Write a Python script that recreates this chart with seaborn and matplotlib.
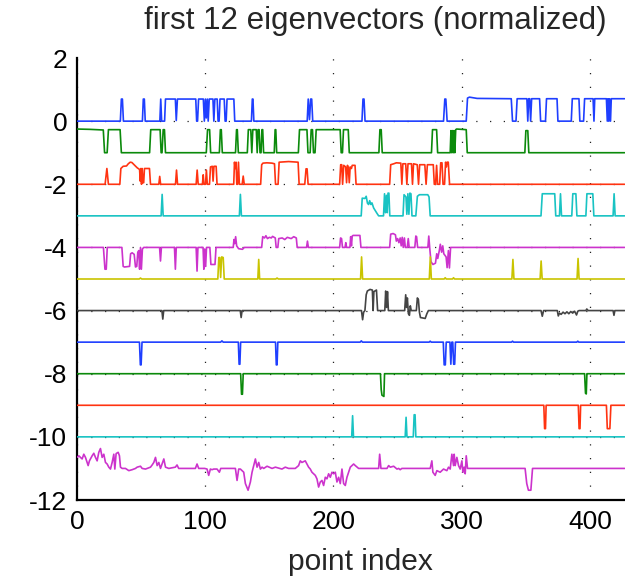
import matplotlib
matplotlib.use('Agg')
import matplotlib.pyplot as plt
import seaborn as sns
import pandas as pd

# ---------------- data (x = point index, y = normalized eigenvector + offset) -------------
ev1 = [(0, 0), (33.8, 0), (34.6, 0.7), (35.4, 0.7), (36.2, 0),
       (51.0, 0), (51.7, 0.7), (52.5, 0.7), (53.2, 0),
       (64.6, 0), (65.3, 0.7), (66.0, 0), (68.3, 0), (69.0, 0.7), (76.7, 0.7), (77.4, 0.02),
       (78.3, 0.7), (92.6, 0.7), (93.3, 0), (94.0, 0), (94.8, 0.7), (98.5, 0.7), (99.3, 0),
       (100.1, 0.7), (100.8, 0.1), (101.6, 0.7), (102.3, 0), (103.1, 0.7), (106.0, 0.7),
       (106.7, 0), (107.5, 0.7), (109.3, 0.7), (110.0, 0), (110.8, 0), (111.5, 0.7),
       (114.8, 0.7), (115.5, 0), (116.3, 0), (117.0, 0.7), (122.3, 0.7), (123.0, 0),
       (136.0, 0), (136.7, 0.7), (137.2, 0.7), (137.9, 0),
       (179.5, 0), (180.3, 0.7), (181.3, 0.05), (182.2, 0.7), (183.0, 0.7), (183.8, 0),
       (222.2, 0), (223.0, 0.7), (223.8, 0.7), (224.6, 0),
       (285.8, 0), (286.8, 0.7), (287.6, 0.7), (288.6, 0),
       (303.5, 0), (304.5, 0.73), (306, 0.76), (312, 0.72), (338.6, 0.71), (339.6, 0),
       (342.3, 0), (343.2, 0.71), (350.8, 0.71), (351.5, 0), (352.2, 0.71), (353.0, 0.71),
       (353.7, 0), (354.5, 0.71), (360.7, 0.71), (361.5, 0), (365.3, 0), (366.1, 0.71),
       (374.3, 0.71), (375.0, 0), (385.4, 0), (386.2, 0.71), (391.4, 0.71), (392.1, 0),
       (395.0, 0), (395.8, 0.71), (402.4, 0.71), (403.1, 0), (403.7, 0.71), (412.8, 0.71),
       (413.5, 0), (414.1, 0.71), (414.7, 0), (415.3, 0.71), (416.0, 0), (416.6, 0.71),
       (427, 0.71)]

ev2 = [(0, -0.25), (10, -0.26), (20.5, -0.28), (21.5, -1.0), (23.5, -1.0), (24.5, -0.27),
       (33.6, -0.27), (34.6, -1.0), (56.6, -1.0), (57.5, -0.27), (64.8, -0.27), (65.6, -1.0),
       (66.3, -1.0), (67.2, -0.27), (68.2, -0.27), (69.0, -1.0), (100.8, -1.0), (101.8, -0.27),
       (103.4, -0.27), (104.2, -1.0), (111.0, -1.0), (111.8, -0.27), (112.5, -0.27),
       (113.3, -1.0), (123.6, -1.0), (124.4, -0.27), (125.0, -0.27), (125.8, -1.0),
       (132.8, -1.0), (133.6, -0.27), (135.5, -0.27), (136.3, -1.0), (137.1, -0.27),
       (139.8, -0.27), (140.5, -1.0), (141.2, -0.27), (142.0, -0.27), (142.7, -1.0),
       (143.5, -1.0), (144.2, -0.27), (144.8, -0.27), (145.5, -1.0), (153.8, -1.0),
       (154.5, -0.27), (155.0, -0.27), (155.7, -1.0), (172.6, -1.0), (173.5, -0.27),
       (179.3, -0.27), (180.1, -1.0), (181.8, -1.0), (182.6, -0.27), (183.6, -0.27),
       (184.4, -1.0), (185.6, -1.0), (186.5, -0.27), (205.2, -0.27), (206.0, -1.0),
       (207.0, -1.0), (207.8, -0.27), (211.5, -0.27), (212.3, -1.0), (235.4, -1.0),
       (236.2, -0.27), (237.2, -0.27), (238.0, -1.0), (276.4, -1.0), (277.2, -0.27),
       (280.4, -0.27), (281.2, -1.0), (291.0, -1.0), (291.6, -0.3), (292.2, -1.0),
       (292.8, -0.3), (293.4, -1.0), (294.0, -0.3), (294.6, -1.0), (295.3, -0.27),
       (296.0, -0.25), (303.5, -0.27), (304.3, -1.0), (349.2, -1.0), (350.0, -0.3),
       (351.5, -0.3), (352.3, -1.0), (427, -1.0)]

ev3 = [(0, -2), (21.9, -2), (23.3, -1.5), (24.5, -2), (33.4, -2), (34.2, -1.5), (36, -1.43),
       (38.6, -1.42), (40, -1.35), (41.5, -1.3), (42.8, -1.31), (45, -1.4), (47, -1.48),
       (48.8, -1.53), (49.3, -1.9), (49.8, -1.5), (50.3, -2.0), (50.8, -1.5), (51.4, -1.95),
       (52.0, -1.95), (52.6, -1.5), (56.5, -1.5), (57.3, -2.0), (63.8, -2), (64.5, -1.75),
       (65.2, -2), (76.8, -2), (77.6, -1.55), (78.4, -2), (92.9, -2), (93.7, -1.55),
       (94.5, -2), (97.8, -2), (98.4, -1.7), (99.0, -2), (100.2, -2), (100.9, -1.55),
       (101.6, -2), (103.3, -2), (104.1, -1.45), (105.5, -1.43), (106.1, -1.9),
       (106.8, -1.43), (108.5, -1.43), (109.2, -2), (122.2, -2), (122.8, -1.3),
       (123.4, -1.5), (124.0, -1.3), (124.6, -2), (125.2, -2), (125.9, -1.3), (126.6, -2),
       (128.8, -2), (129.6, -1.74), (130.4, -2), (143.2, -2), (144.0, -1.38), (145, -1.33),
       (148, -1.32), (152, -1.33), (154.0, -1.35), (154.8, -2), (156.8, -2), (157.6, -1.3),
       (165, -1.28), (172.4, -1.3), (173.2, -2), (177.6, -2), (178.6, -1.51), (179.4, -1.51),
       (180.2, -2), (204.8, -2), (205.6, -1.38), (206.4, -1.38), (207.1, -2), (208.0, -1.4),
       (209.5, -1.45), (210.2, -1.95), (210.9, -1.4), (211.6, -1.5), (212.3, -1.95),
       (213.0, -1.45), (214.0, -1.5), (214.6, -1.4), (216.8, -1.4), (217.6, -2.0),
       (243.8, -2), (244.6, -1.38), (247, -1.35), (249, -1.32), (252.5, -1.33), (253.3, -2),
       (254.1, -1.35), (256.3, -1.35), (257.2, -2), (258.1, -1.35), (260.8, -1.35),
       (261.6, -2), (262.4, -1.35), (265.3, -1.38), (266.3, -2), (267.2, -1.38),
       (271.2, -1.38), (272.2, -2), (273.2, -1.38), (277.8, -1.38), (278.6, -2), (279.6, -2),
       (280.4, -1.4), (281.2, -2), (282.8, -2), (283.6, -1.32), (284.6, -1.32), (285.4, -2),
       (286.6, -2), (287.4, -1.3), (288.0, -1.45), (288.6, -1.3), (289.5, -1.3), (290.5, -2),
       (427, -2)]

ev4 = [(0, -3), (65.6, -3), (66.4, -2.32), (67.2, -3), (126.6, -3), (127.4, -2.32),
       (128.2, -3), (221.6, -3), (222.4, -2.44), (224.5, -2.45), (225.5, -2.38),
       (226.5, -2.6), (227.4, -2.64), (228.2, -2.52), (229.2, -2.64), (230, -2.59),
       (231.3, -2.75), (233.9, -2.92), (235.2, -3), (239.0, -3), (239.8, -2.3),
       (240.5, -2.9), (241.3, -2.35), (241.9, -2.9), (242.5, -2.28), (243.2, -2.28),
       (243.9, -3), (254.2, -3), (255.0, -2.33), (256.5, -2.4), (257.2, -2.95),
       (258.0, -2.3), (258.8, -2.95), (259.6, -2.28), (260.4, -2.3), (261.2, -3),
       (264.2, -3), (265.4, -2.38), (267, -2.33), (273.5, -2.33), (274.5, -2.4),
       (275.4, -3), (361.8, -3), (362.8, -2.3), (372.5, -2.3), (373.3, -3), (376.2, -3),
       (377.0, -2.3), (377.8, -3), (385.8, -3), (386.6, -2.3), (389.0, -2.3), (389.8, -3),
       (396.8, -3), (397.6, -2.3), (402.2, -2.3), (403.0, -3), (418.0, -3), (418.8, -2.3),
       (419.6, -3), (427, -3)]

ev5 = [(0, -4), (20.6, -4), (21.8, -4.69), (22.8, -4.69), (23.6, -4), (35.0, -4),
       (36.0, -4.6), (37.0, -4.62), (41.0, -4.6), (41.8, -4.2), (43.0, -4.17), (44.6, -4.22),
       (45.6, -4.62), (46.6, -4.6), (47.4, -4.15), (48.2, -4.1), (48.8, -4.69), (49.5, -4.0),
       (50.2, -4.69), (51.0, -4.05), (52.0, -4.0), (64.4, -4), (65.1, -4.43), (65.8, -4),
       (76.0, -4), (76.7, -4.69), (77.4, -4), (92.9, -4), (93.6, -4.75), (94.3, -4),
       (98.3, -4), (98.9, -4.69), (99.6, -4.05), (100.3, -4.6), (101.0, -4.0), (103.6, -4),
       (104.4, -4.54), (107.6, -4.54), (108.4, -4), (121.8, -4), (122.4, -3.75),
       (123.0, -3.88), (123.7, -3.66), (124.5, -3.95), (126.0, -4.04), (129.0, -4.06),
       (130.5, -4.0), (144.0, -4), (144.8, -3.66), (146.2, -3.7), (147.3, -3.63),
       (148.5, -3.72), (150, -3.68), (151.5, -3.7), (152.5, -3.65), (154.6, -3.7),
       (155.3, -4.0), (156.6, -4.0), (157.3, -3.72), (160, -3.7), (162, -3.75), (164, -3.68),
       (167, -3.72), (169, -3.66), (171.0, -3.7), (171.7, -4.0), (179.0, -4), (179.7, -3.8),
       (180.4, -4), (204.8, -4), (205.5, -3.7), (206.3, -3.72), (207, -4), (209.0, -4),
       (209.6, -3.85), (210.2, -4), (212.8, -4), (213.4, -3.66), (214.0, -3.95),
       (214.6, -3.64), (215.3, -3.62), (220.6, -3.62), (221.4, -4), (243.8, -4),
       (244.6, -3.58), (246.5, -3.56), (248.3, -3.6), (249.0, -3.8), (250.0, -3.72),
       (251.0, -3.85), (252.0, -3.7), (252.8, -3.95), (253.6, -3.68), (254.4, -4.0),
       (255.3, -3.7), (256.0, -4.0), (257.5, -4.0), (258.3, -3.72), (259.0, -4.0),
       (263.4, -4.0), (264.2, -3.64), (264.8, -3.66), (265.6, -4.0), (273.6, -4.0),
       (274.3, -3.64), (275.0, -4.0), (276.0, -4.45), (277.5, -4.54), (279.5, -4.5),
       (280.5, -4.2), (281.3, -4.35), (282.5, -4.1), (283.3, -3.9), (284.3, -4.15),
       (285.2, -3.95), (286.0, -4.2), (287.8, -4.3), (288.6, -4.64), (289.6, -4.1),
       (290.4, -4.65), (291.3, -4.0), (427, -4.0)]

ev6 = [(0, -5), (48.5, -5), (49.5, -4.97), (50.5, -5), (109.8, -5), (110.6, -4.32),
       (111.3, -4.32), (112.0, -4.95), (112.8, -4.3), (114.0, -4.32), (114.8, -5),
       (141.0, -5), (141.7, -4.38), (142.4, -5), (155, -5), (156, -4.97), (157, -5),
       (221.1, -5), (221.9, -4.3), (222.7, -5), (274.7, -5), (275.5, -4.3), (276.3, -5),
       (286.3, -5), (287.1, -4.96), (287.9, -5), (292.8, -5), (293.6, -4.96), (294.4, -5),
       (339.1, -5), (339.9, -4.38), (340.7, -5), (361.1, -5), (361.9, -4.43), (362.7, -5),
       (389.9, -5), (390.7, -4.35), (391.5, -5), (427, -5)]

ev7 = [(0, -6), (66.2, -6), (66.9, -6.27), (67.6, -6), (127.3, -6), (128.0, -6.22),
       (128.7, -6), (221.8, -6), (222.7, -6.29), (223.5, -6.05), (224.5, -6.0),
       (225.5, -5.5), (226.4, -5.38), (228.5, -5.33), (230.3, -5.35), (230.9, -6.0),
       (231.5, -5.4), (233.5, -5.35), (234.4, -6.0), (240.0, -6.0), (240.7, -5.38),
       (241.4, -5.9), (242.1, -5.4), (242.8, -6.0), (255.5, -6), (256.3, -5.5),
       (257.0, -5.9), (257.6, -5.6), (258.4, -6.1), (259.2, -6.15), (259.9, -5.85),
       (260.6, -6.0), (264.6, -6.0), (265.4, -5.6), (266.2, -5.65), (267.0, -6.05),
       (267.8, -6.22), (271.5, -6.25), (272.8, -6.1), (274.0, -6.0), (361.8, -6),
       (362.8, -6.18), (363.8, -6), (374.5, -6), (375.3, -6.17), (376.2, -6.08),
       (377.5, -6.12), (379, -6.05), (380.5, -6.1), (382, -6.04), (383.5, -6.1),
       (385, -6.03), (386.5, -6.08), (388, -6.02), (389.5, -6.14), (390.5, -6.02),
       (391.5, -6.0), (396.8, -6), (397.5, -5.95), (398.6, -6), (418.0, -6),
       (418.7, -6.15), (419.4, -6), (427, -6)]

ev8 = [(0, -7), (48.7, -7), (49.4, -7.72), (50.0, -7.72), (50.7, -7), (112, -7),
       (113, -6.96), (114, -7), (125.8, -7), (126.4, -7.7), (127.0, -7.7), (127.6, -7),
       (154.8, -7), (155.4, -7.72), (156.0, -7.72), (156.6, -7), (220.8, -7),
       (221.7, -6.96), (222.6, -7), (274.6, -7), (275.4, -6.97), (276.2, -7), (285.6, -7),
       (286.3, -7.72), (287.2, -7.72), (287.9, -7), (290.8, -7), (291.5, -7.7),
       (292.3, -7.0), (293.0, -7.0), (293.7, -7.7), (294.5, -7.7), (295.1, -7),
       (338.8, -7), (339.6, -6.97), (340.4, -7), (389.7, -7), (390.5, -6.97), (391.3, -7),
       (427, -7)]

ev9 = [(0, -8), (127.6, -8), (128.3, -8.65), (129.0, -8.65), (129.6, -8), (236.6, -8),
       (237.2, -8.5), (237.8, -8.68), (239.3, -8.72), (239.8, -8), (395.8, -8),
       (396.5, -8.62), (397.1, -8.64), (397.6, -8), (427, -8)]

ev10 = [(0, -9), (364.0, -9), (364.6, -9.74), (365.3, -9.74), (365.8, -9), (390.9, -9),
        (391.5, -9.74), (392.2, -9.74), (392.7, -9), (412.8, -9), (413.5, -9.74),
        (415.5, -9.74), (416.3, -9), (427, -9)]

ev11 = [(0, -10), (214.2, -10), (214.9, -9.33), (215.6, -10), (255.9, -10),
        (256.6, -9.38), (257.3, -10), (262.2, -10), (262.9, -9.3), (263.6, -9.3),
        (264.2, -10), (427, -10)]

ev12 = [(0, -10.65), (1.4, -10.60), (4.0, -10.70), (5.3, -10.55), (6.6, -10.65),
        (8.7, -10.91), (9.7, -10.76), (11.8, -10.60), (13.1, -10.52), (14.4, -10.65),
        (15.7, -10.76), (17.0, -10.49), (18.3, -10.37), (19.6, -10.65), (20.9, -10.55),
        (22.2, -10.81), (23.5, -10.86), (24.8, -10.96), (26.1, -11.02), (27.4, -10.81),
        (28.7, -10.55), (29.5, -11.02), (30.5, -10.53), (32.1, -10.49), (33.1, -10.60),
        (33.9, -10.96), (35.2, -11.0), (37.8, -11.0), (40.4, -11.07), (43.0, -11.04),
        (45.6, -11.0), (46.9, -10.96), (49.5, -10.93), (50.8, -11.0), (53.4, -11.02),
        (54.7, -11.0), (57.3, -10.96), (58.6, -10.89), (59.9, -10.81), (61.2, -10.65),
        (62.5, -10.91), (63.8, -10.81), (65.1, -11.0), (67.7, -10.70), (69.0, -10.96),
        (71.6, -11.0), (76.7, -10.96), (78.0, -10.89), (79.3, -11.0), (92.3, -11.0),
        (93.6, -10.86), (94.9, -11.0), (99.6, -11.0), (101.4, -11.02), (102.7, -11.22),
        (104.0, -11.02), (105.3, -11.04), (106.6, -11.02), (109.2, -11.02), (111.0, -11.12),
        (112.1, -11.0), (123.5, -11.0), (124.8, -11.38), (126.1, -11.02), (127.4, -11.02),
        (130.0, -11.12), (131.3, -11.48), (133.4, -11.69), (135.2, -11.43), (136.5, -11.12),
        (137.8, -10.91), (139.1, -10.70), (140.4, -10.96), (141.7, -10.81), (143.0, -11.02),
        (144.3, -10.96), (145.6, -11.0), (148.2, -10.93), (152.1, -11.0), (154.7, -10.96),
        (159.8, -11.02), (162.4, -10.96), (165.0, -11.0), (170.2, -11.0), (172.8, -10.91),
        (174.1, -10.76), (175.4, -10.81), (178.0, -10.76), (179.3, -10.86), (180.6, -10.96),
        (181.9, -11.02), (183.2, -11.12), (185.8, -11.22), (187.1, -11.33), (188.4, -11.59),
        (189.7, -11.43), (191.0, -11.38), (192.3, -11.54), (193.6, -11.28), (194.9, -11.33),
        (196.2, -11.17), (197.5, -11.28), (198.8, -11.12), (200.1, -11.17), (201.4, -11.12),
        (202.7, -11.43), (204.0, -11.28), (205.3, -11.48), (206.6, -11.02), (207.9, -11.48),
        (209.2, -11.54), (210.5, -11.28), (211.8, -11.12), (213.1, -10.96), (215.7, -10.86),
        (217.0, -10.91), (219.6, -11.0), (235.2, -11.0), (236.0, -10.55), (237.0, -11.0),
        (241.7, -11.0), (243.0, -10.91), (244.3, -10.96), (246.9, -10.93), (249.5, -11.02),
        (250.8, -11.0), (252.0, -11.04), (253.3, -11.0), (275.4, -11.0), (276.7, -10.76),
        (277.5, -11.12), (279.3, -11.22), (280.6, -11.07), (283.2, -11.12), (285.8, -11.02),
        (288.4, -11.07), (289.7, -10.96), (291.0, -11.02), (292.3, -10.55), (293.6, -10.91),
        (294.1, -10.55), (294.9, -10.91), (296.2, -10.65), (297.5, -10.91), (298.8, -11.02),
        (300.1, -10.76), (300.9, -11.12), (301.9, -10.96), (302.7, -11.17), (303.5, -10.60),
        (304.5, -11.0), (349.4, -11.0), (350.7, -11.48), (352.0, -11.69), (353.9, -11.69),
        (355.2, -11.0), (427, -11.0)]

series = [ev1, ev2, ev3, ev4, ev5, ev6, ev7, ev8, ev9, ev10, ev11, ev12]
colors = ['#1f3fff', '#0b8a0b', '#ff3311', '#19c3c3', '#cc33cc', '#c9c400', '#444444',
          '#1f3fff', '#0b8a0b', '#ff3311', '#19c3c3', '#cc33cc']
xticks = [0, 100, 200, 300, 400]
yticks = [-12, -10, -8, -6, -4, -2, 0, 2]
title = 'first 12 eigenvectors (normalized)'
xlabel = 'point index'

# ---------------- plotting ----------------
sns.set_theme(style='white')
plt.rcParams['font.family'] = ['Liberation Sans', 'DejaVu Sans']
plt.rcParams['axes.unicode_minus'] = False

fig = plt.figure(figsize=(6.25, 5.77), dpi=100)
ax = fig.add_axes([77 / 625, 77 / 577, 1 - 77 / 625, (500 - 58) / 577])

for i, (pts, col) in enumerate(zip(series, colors)):
    df = pd.DataFrame(pts, columns=['x', 'y'])
    sns.lineplot(data=df, x='x', y='y', color=col, linewidth=1.2,
                 estimator=None, sort=False, ax=ax, zorder=3)

ax.set_xlim(0, 427.3)
ax.set_ylim(-12, 2)
ax.set_xticks(xticks)
ax.set_yticks(yticks)
ax.set_xticklabels([str(t) for t in xticks])
ax.set_yticklabels([str(t) for t in yticks])
ax.set_xlabel('')
ax.set_ylabel('')
ax.set_axisbelow(True)
ax.grid(True, color='#222222', linestyle=(0, (1, 10)), linewidth=0.9)
# no grid line along the open top edge
ax.get_ygridlines()[-1].set_visible(False)
for s in ['top', 'right']:
    ax.spines[s].set_visible(False)
for s in ['left', 'bottom']:
    ax.spines[s].set_color('black')
    ax.spines[s].set_linewidth(1.6)
ax.tick_params(direction='in', length=5, width=1.0, colors='black',
               labelsize=19, pad=7)

fig.text(375 / 625, 1 - 21 / 577, title, ha='center', va='center', fontsize=22.5)
fig.text(360 / 625, 1 - 562 / 577, xlabel, ha='center', va='center', fontsize=21.5)

fig.savefig('out.png', dpi=100)
